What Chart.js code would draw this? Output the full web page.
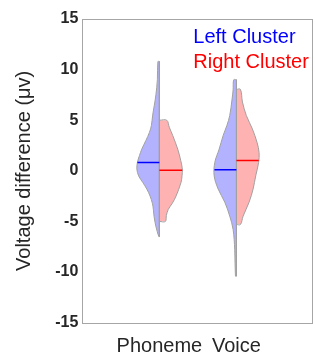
<!DOCTYPE html>
<html><head><meta charset="utf-8">
<script src="https://cdn.jsdelivr.net/npm/chart.js@4/dist/chart.umd.min.js"></script>
<style>html,body{margin:0;padding:0;background:#fff;} #wrap{width:315px;height:356px;position:relative;}</style>
</head><body><div id="wrap"><canvas id="c" width="315" height="356"></canvas></div>
<script>
// ---- data ----
const categories = ['Phoneme', 'Voice'];
const clusters = ['Left Cluster', 'Right Cluster'];
const yTicks = [-15, -10, -5, 0, 5, 10, 15];

// density outlines: voltage level (µV) and half-width (in category units)
const phonemeLeftY  = [10.8, 9.0, 7.5, 6.5, 5.5, 4.5, 3.8, 3.0, 2.15, 1.5, 0.83, 0.17, -0.5, -1.15, -1.8, -2.5, -3.2, -3.8, -4.5, -5.1, -6.0, -6.5];
const phonemeLeftW  = [0.019, 0.026, 0.045, 0.065, 0.087, 0.103, 0.129, 0.175, 0.228, 0.259, 0.285, 0.292, 0.269, 0.215, 0.163, 0.120, 0.091, 0.078, 0.069, 0.056, 0.028, 0.006];
const phonemeRightY = [5.0, 4.3, 3.5, 2.15, 1.0, 0.17, -0.5, -1.15, -2.5, -3.2, -3.8, -4.4, -5.0];
const phonemeRightW = [0.096, 0.129, 0.173, 0.238, 0.278, 0.298, 0.294, 0.281, 0.216, 0.168, 0.116, 0.091, 0.078];
const voiceLeftY    = [9.0, 8.0, 7.0, 5.46, 4.5, 3.5, 2.15, 0.83, -0.5, -1.8, -3.1, -4.47, -5.8, -7.8, -10.4];
const voiceLeftW    = [0.035, 0.043, 0.058, 0.087, 0.123, 0.172, 0.224, 0.281, 0.289, 0.237, 0.151, 0.087, 0.043, 0.022, 0.013];
const voiceRightY   = [8.05, 6.8, 5.46, 4.14, 2.8, 1.8, 0.83, -0.5, -1.8, -3.1, -4.47, -5.3];
const voiceRightW   = [0.052, 0.078, 0.129, 0.207, 0.268, 0.294, 0.288, 0.250, 0.216, 0.164, 0.087, 0.052];

// medians [left cluster, right cluster]
const phonemeMedians = [0.83, 0.05];
const voiceMedians   = [0.12, 1.03];

// ---- styles ----
const FONT = '"Liberation Sans", Arial, Helvetica, sans-serif';
const TEXT = '#262626';
const clusterLine = ['#0000ff', '#ff0000'];
const clusterFill = ['rgba(0,0,255,0.3)', 'rgba(255,0,0,0.3)'];
const EDGE = '#a0a0a0';

function widthAt(ys, ws, v) {
  for (let i = 0; i < ys.length - 1; i++) {
    const a = ys[i], b = ys[i + 1];
    if ((v <= a && v >= b)) {
      const t = (a - v) / (a - b);
      return ws[i] + t * (ws[i + 1] - ws[i]);
    }
  }
  return 0;
}

const violins = [
  { cat: 0, side: -1, k: 0, ys: phonemeLeftY,  ws: phonemeLeftW,  med: phonemeMedians[0] },
  { cat: 0, side:  1, k: 1, ys: phonemeRightY, ws: phonemeRightW, med: phonemeMedians[1] },
  { cat: 1, side: -1, k: 0, ys: voiceLeftY,    ws: voiceLeftW,    med: voiceMedians[0] },
  { cat: 1, side:  1, k: 1, ys: voiceRightY,   ws: voiceRightW,   med: voiceMedians[1] },
];

const datasets = [];
violins.forEach(v => {
  const c = v.cat + 1;
  const pts = [{ x: c, y: v.ys[0] }];
  v.ys.forEach((y, i) => pts.push({ x: c + v.side * v.ws[i], y }));
  pts.push({ x: c, y: v.ys[v.ys.length - 1] });
  datasets.push({
    type: 'line', label: clusters[v.k], indexAxis: 'y', data: pts,
    borderColor: EDGE, borderWidth: 1, backgroundColor: clusterFill[v.k],
    fill: { value: c }, tension: 0.35, pointRadius: 0, order: 3
  });
});
// center lines
categories.forEach((name, i) => {
  const vs = violins.filter(v => v.cat === i);
  const top = Math.max(...vs.map(v => v.ys[0]));
  const bot = Math.min(...vs.map(v => v.ys[v.ys.length - 1]));
  datasets.push({
    type: 'line', label: name + ' center', data: [{ x: i + 1, y: top }, { x: i + 1, y: bot }],
    borderColor: EDGE, borderWidth: 1, pointRadius: 0, fill: false, order: 2
  });
});
// medians
violins.forEach(v => {
  const c = v.cat + 1;
  const w = widthAt(v.ys, v.ws, v.med);
  datasets.push({
    type: 'line', label: clusters[v.k] + ' median',
    data: [{ x: c + v.side * w, y: v.med }, { x: c, y: v.med }],
    borderColor: clusterLine[v.k], borderWidth: 1.5, pointRadius: 0, fill: false, order: 1
  });
});

const boxPlugin = {
  id: 'box',
  afterDraw(chart) {
    const { ctx, chartArea: a } = chart;
    ctx.save();
    ctx.strokeStyle = '#a6a6a6';
    ctx.lineWidth = 1;
    ctx.strokeRect(Math.round(a.left) + 0.5, Math.round(a.top) + 0.5, Math.round(a.right - a.left) - 1, Math.round(a.bottom - a.top));
    ctx.restore();
  }
};
const textLegend = {
  id: 'textLegend',
  afterDraw(chart) {
    const { ctx, chartArea: a } = chart;
    ctx.save();
    ctx.font = '20px ' + FONT;
    ctx.textAlign = 'left';
    ctx.textBaseline = 'middle';
    clusters.forEach((name, i) => {
      ctx.fillStyle = clusterLine[i];
      ctx.fillText(name, a.left + 111, a.top + 18 + i * 25);
    });
    ctx.restore();
  }
};

new Chart(document.getElementById('c'), {
  type: 'line',
  data: { datasets },
  plugins: [boxPlugin, textLegend],
  options: {
    responsive: false, devicePixelRatio: 1, animation: false, events: [],
    layout: { padding: { top: 19, right: 1.5, left: 0, bottom: 0 } },
    plugins: { legend: { display: false }, tooltip: { enabled: false } },
    scales: {
      x: {
        type: 'linear', min: 0, max: 3,
        afterBuildTicks: s => { s.ticks = categories.map((_, i) => ({ value: i + 1 })); },
        afterFit: s => { s.height = 33.3; },
        ticks: { callback: v => categories[v - 1] || '', color: TEXT, font: { family: FONT, size: 20 }, padding: 12, maxRotation: 0, autoSkip: false },
        grid: { display: false, drawTicks: false },
        border: { display: false }
      },
      y: {
        type: 'linear', min: -15, max: 15,
        afterBuildTicks: s => { s.ticks = yTicks.map(v => ({ value: v })); },
        afterFit: s => { s.width = 82.3; },
        ticks: { color: TEXT, font: { family: FONT, size: 16, weight: 'bold' }, padding: 4 },
        grid: { display: false, drawTicks: false },
        border: { display: false },
        title: { display: true, text: 'Voltage difference (μv)', color: TEXT, font: { family: FONT, size: 20 }, padding: { top: 12, bottom: 0 } }
      }
    }
  }
});
</script></body></html>
